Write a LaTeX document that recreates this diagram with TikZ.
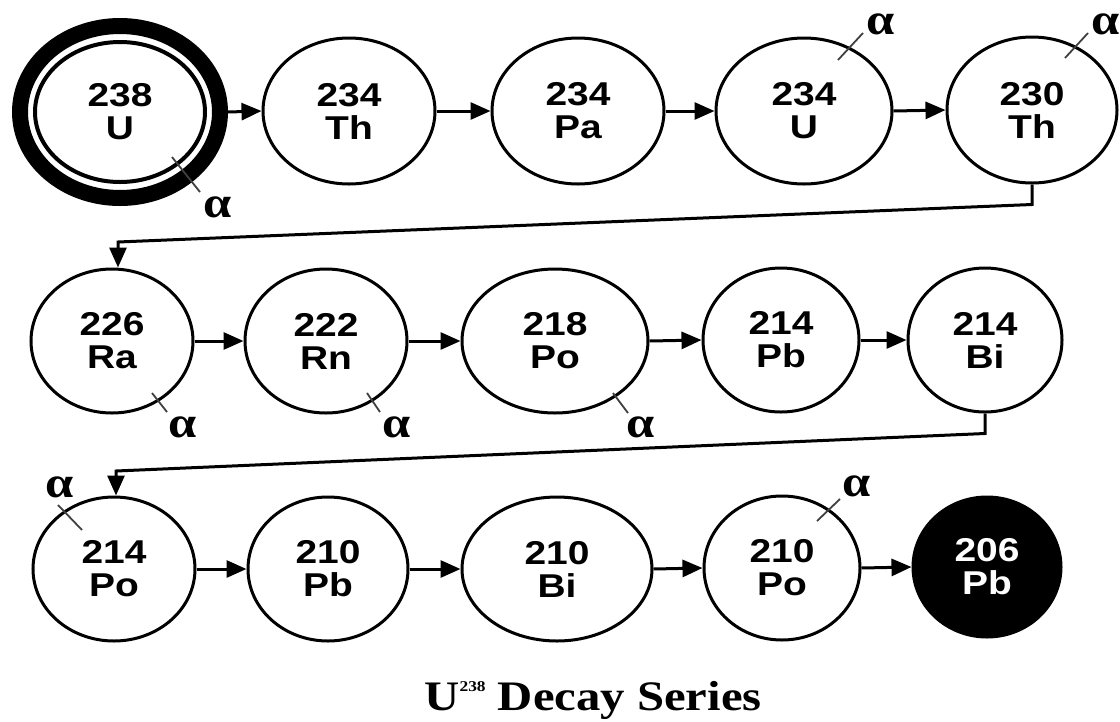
\documentclass[tikz,border=0pt]{standalone}
\usepackage{graphicx}
\usepackage{fontspec}
\setmainfont{Liberation Serif}
\newfontfamily\labfont{Liberation Sans}
\newfontfamily\alfont{Liberation Serif}
\usetikzlibrary{shapes.geometric,arrows.meta,calc}
\newcommand\sx[1]{\scalebox{1.18}[1]{#1}}
\newcommand\isot[2]{\sx{#1}\\\sx{#2}}
\begin{document}
\begin{tikzpicture}[x=1pt,y=-1pt,
  nuc/.style={ellipse, draw, line width=3pt, inner sep=0pt, minimum height=146pt,
    align=center, font=\labfont\bfseries\fontsize{33}{33}\selectfont},
  arr/.style={line width=3pt, -{Triangle[length=20pt,width=17pt]}},
  tickln/.style={line width=1.8pt, black!75},
  alab/.style={font=\alfont\bfseries\fontsize{44}{44}\selectfont, inner sep=0pt, xscale=1.15, transform shape},
]
\fill[white] (0,0) rectangle (1120,721);
\useasboundingbox (0,0) rectangle (1120,721);

% Row 1
\node[nuc, minimum width=170pt, minimum height=140pt, line width=4pt] (u238) at (120,112) {\isot{238}{U}};
\node[ellipse, draw, line width=16pt, inner sep=0pt, minimum width=200pt, minimum height=172pt] (u238r) at (u238) {};
\node[nuc, minimum width=172pt] (th234) at (349,111) {\isot{234}{Th}};
\node[nuc, minimum width=172pt] (pa234) at (578,111) {\isot{234}{Pa}};
\node[nuc, minimum width=176pt] (u234) at (804,111) {\isot{234}{U}};
\node[nuc, minimum width=170pt] (th230) at (1032,110) {\isot{230}{Th}};

% Row 2
\node[nuc, minimum width=162pt, minimum height=144pt] (ra226) at (112,341) {\isot{226}{Ra}};
\node[nuc, minimum width=162pt, minimum height=144pt] (rn222) at (326,341) {\isot{222}{Rn}};
\node[nuc, minimum width=186pt, minimum height=144pt] (po218) at (555,341) {\isot{218}{Po}};
\node[nuc, minimum width=156pt, minimum height=144pt] (pb214) at (781,340) {\isot{214}{Pb}};
\node[nuc, minimum width=154pt, minimum height=144pt] (bi214) at (985,340) {\isot{214}{Bi}};

% Row 3
\node[nuc, minimum width=162pt, minimum height=144pt] (po214) at (114,569) {\isot{214}{Po}};
\node[nuc, minimum width=160pt, minimum height=144pt] (pb210) at (328,569) {\isot{210}{Pb}};
\node[nuc, minimum width=190pt, minimum height=144pt] (bi210) at (557,569) {\isot{210}{Bi}};
\node[nuc, minimum width=156pt, minimum height=144pt] (po210) at (782,568) {\isot{210}{Po}};
\node[nuc, minimum width=148pt, minimum height=140pt, fill=black, text=white] (pb206) at (987,567) {\isot{206}{Pb}};

% Arrows
\draw[arr] (u238r.east) -- (th234.west);
\draw[arr] (th234.east) -- (pa234.west);
\draw[arr] (pa234.east) -- (u234.west);
\draw[arr] (u234.east) -- (th230.west);
\coordinate (k2) at (118,242);
\draw[arr] (th230.south) -- ++(0,20) -- (k2) -- (k2 |- ra226.north);
\draw[arr] (ra226.east) -- (rn222.west);
\draw[arr] (rn222.east) -- (po218.west);
\draw[arr] (po218.east) -- (pb214.west);
\draw[arr] (pb214.east) -- (bi214.west);
\coordinate (k4) at (116,471);
\draw[arr] (bi214.south) -- ++(0,20) -- (k4) -- (k4 |- po214.north);
\draw[arr] (po214.east) -- (pb210.west);
\draw[arr] (pb210.east) -- (bi210.west);
\draw[arr] (bi210.east) -- (po210.west);
\draw[arr] (po210.east) -- (pb206.west);

% Alpha emissions
\draw[tickln] ($(u238)+(52,45)$) -- ($(u238)+(80,80)$);
\node[alab] (a1) at ($(u238)+(98,95)$) {α};
\draw[tickln] ($(u234)+(34,-51)$) -- ($(u234)+(59,-78)$);
\node[alab] (a2) at ($(u234)+(77,-87)$) {α};
\draw[tickln] ($(th230)+(33,-52)$) -- ($(th230)+(56,-77)$);
\node[alab] (a3) at ($(th230)+(74,-86)$) {α};
\draw[tickln] ($(ra226)+(40,52)$) -- ($(ra226)+(55,71)$);
\node[alab] (a4) at ($(ra226)+(71,86)$) {α};
\draw[tickln] ($(rn222)+(41,52)$) -- ($(rn222)+(54,71)$);
\node[alab] (a5) at ($(rn222)+(71,86)$) {α};
\draw[tickln] ($(po218)+(58,52)$) -- ($(po218)+(73,72)$);
\node[alab] (a6) at ($(po218)+(86,86)$) {α};
\draw[tickln] ($(po214)+(-32,-39)$) -- ($(po214)+(-56,-64)$);
\node[alab] (a7) at ($(po214)+(-54,-82)$) {α};
\draw[tickln] ($(po210)+(35,-47)$) -- ($(po210)+(58,-69)$);
\node[alab] (a8) at ($(po210)+(75,-82)$) {α};

% Title
\node[anchor=base, inner sep=0pt, font=\bfseries\fontsize{42}{42}\selectfont] (title) at (593,710)
  {\scalebox{1.16}[1]{U\raisebox{19pt}{\fontsize{15}{15}\selectfont 238} Decay Series}};
\end{tikzpicture}
\end{document}
